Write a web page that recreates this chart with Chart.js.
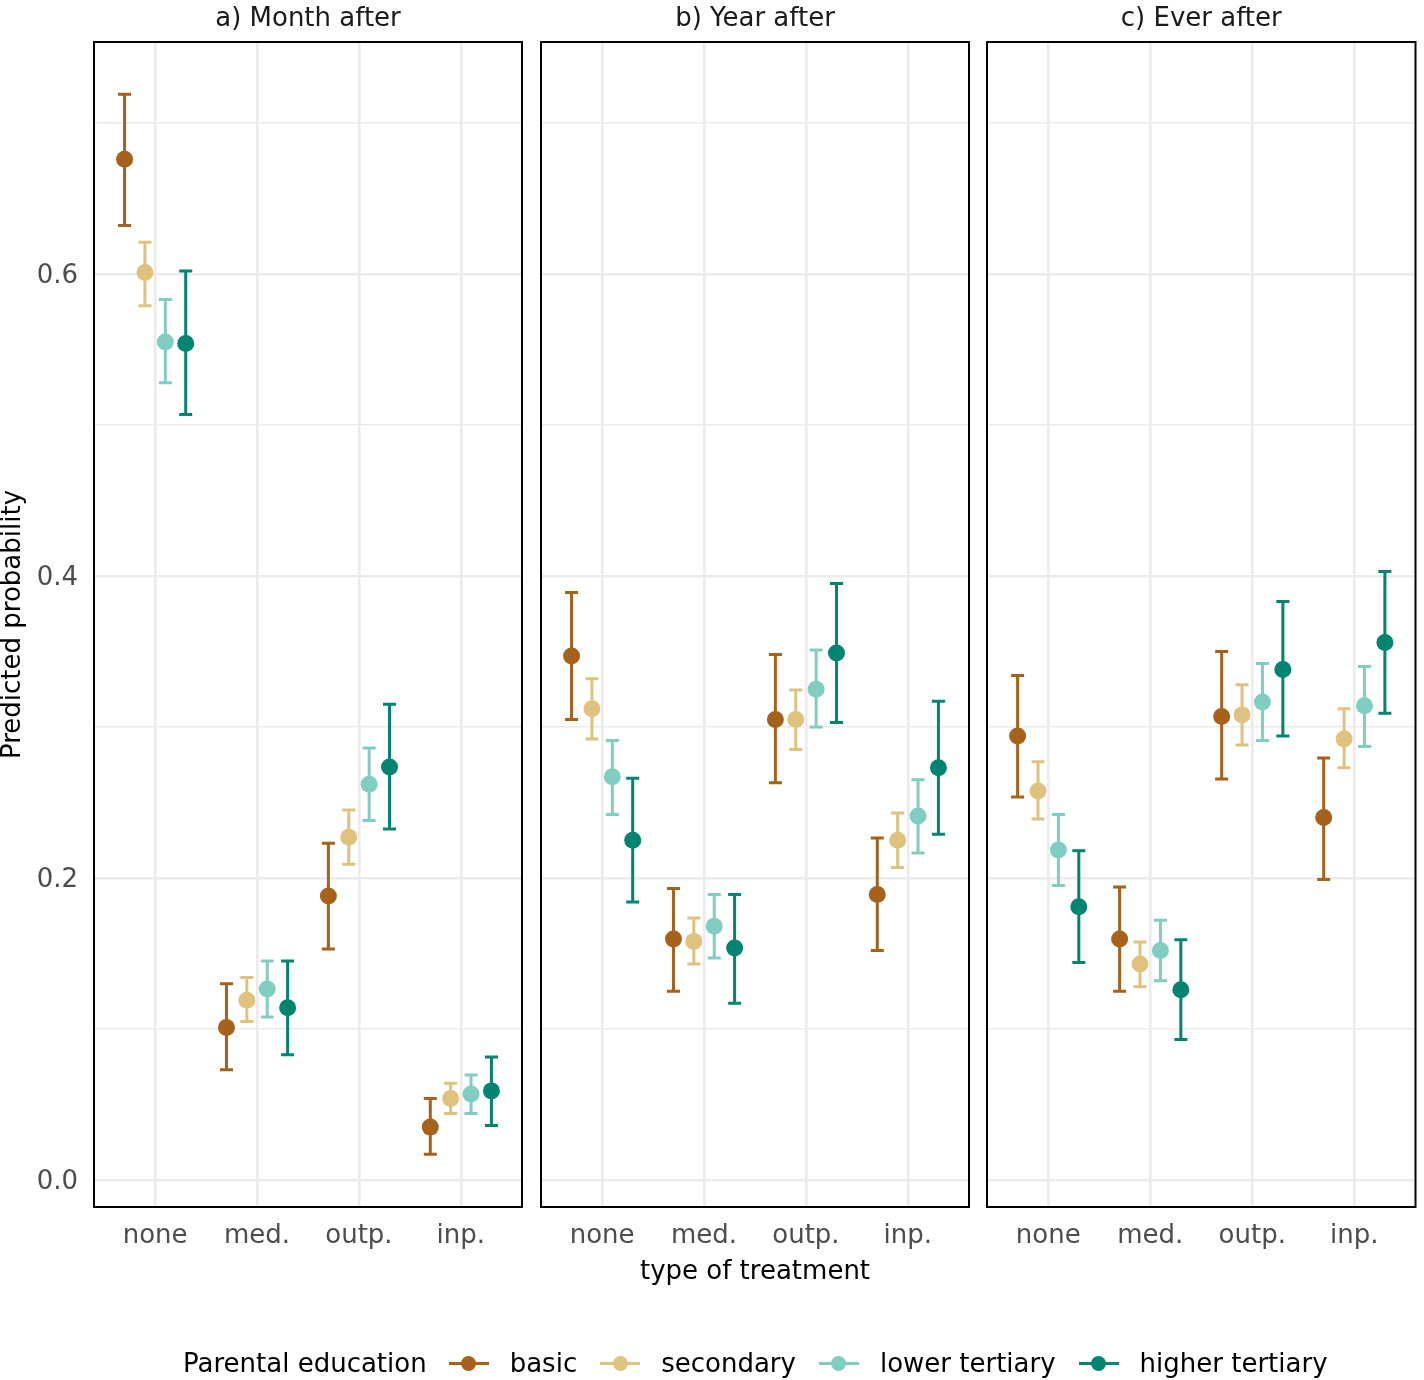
<!DOCTYPE html>
<html>
<head>
<meta charset="utf-8">
<script src="https://cdn.jsdelivr.net/npm/chart.js@4/dist/chart.umd.min.js"></script>
<style>
  html, body { margin: 0; padding: 0; background: #fff; }
  #wrap { position: relative; width: 1424px; height: 1380px; overflow: hidden; font-family: "DejaVu Sans", "Liberation Sans", Arial, sans-serif; }
  #wrap canvas { position: absolute; left: 0; top: 0; }
  #legend { position: absolute; left: 183px; top: 1345px; height: 36px; display: flex; align-items: center; font-size: 26px; color: #000; white-space: nowrap; }
  #legend .ttl { margin-right: 22px; }
  #legend .key { position: relative; width: 40px; height: 20px; margin-right: 21px; }
  #legend .key .ln { position: absolute; left: 0; top: 8.5px; width: 40px; height: 3px; }
  #legend .key .pt { position: absolute; left: 12.5px; top: 2.5px; width: 15px; height: 15px; border-radius: 50%; }
  #legend .lab { margin-right: 23px; }
</style>
</head>
<body>
<div id="wrap">
  <canvas id="c1" width="1424" height="1380"></canvas>
  <canvas id="c2" width="1424" height="1380"></canvas>
  <canvas id="c3" width="1424" height="1380"></canvas>
  <div id="legend"></div>
</div>
<script>
// ---------- data ----------
const categories = ["none", "med.", "outp.", "inp."];
const seriesNames = ["basic", "secondary", "lower tertiary", "higher tertiary"];
const seriesColors = ["#a6611a", "#dfc27d", "#80cdc1", "#018571"];
const panelTitles = ["a) Month after", "b) Year after", "c) Ever after"];
const yTickValues = [0, 0.1, 0.2, 0.3, 0.4, 0.5, 0.6, 0.7];
const legendTitle = "Parental education";
const xTitle = "type of treatment";
const yTitle = "Predicted probability";

// rows: basic, secondary, lower tertiary, higher tertiary; columns: none, med., outp., inp.
const monthEst = [[0.676, 0.101, 0.188, 0.035], [0.601, 0.119, 0.227, 0.054], [0.555, 0.1265, 0.262, 0.057], [0.554, 0.114, 0.2735, 0.059]];
const monthLo  = [[0.632, 0.073, 0.153, 0.017], [0.579, 0.105, 0.209, 0.044], [0.528, 0.108, 0.238, 0.044], [0.507, 0.083, 0.2325, 0.036]];
const monthHi  = [[0.719, 0.130, 0.223, 0.054], [0.621, 0.134, 0.245, 0.064], [0.583, 0.145, 0.286, 0.0695], [0.602, 0.145, 0.315, 0.0815]];

const yearEst = [[0.347, 0.1596, 0.305, 0.189], [0.312, 0.158, 0.305, 0.225], [0.267, 0.168, 0.325, 0.241], [0.225, 0.1536, 0.349, 0.273]];
const yearLo  = [[0.305, 0.125, 0.263, 0.152], [0.292, 0.143, 0.285, 0.207], [0.242, 0.147, 0.300, 0.2165], [0.184, 0.117, 0.303, 0.229]];
const yearHi  = [[0.389, 0.193, 0.348, 0.2265], [0.332, 0.1735, 0.3245, 0.243], [0.291, 0.189, 0.351, 0.265], [0.266, 0.189, 0.395, 0.317]];

const everEst = [[0.294, 0.1596, 0.307, 0.240], [0.2576, 0.143, 0.308, 0.292], [0.2185, 0.152, 0.3166, 0.314], [0.181, 0.126, 0.338, 0.356]];
const everLo  = [[0.2536, 0.125, 0.2656, 0.199], [0.239, 0.128, 0.288, 0.273], [0.195, 0.132, 0.291, 0.287], [0.144, 0.093, 0.294, 0.309]];
const everHi  = [[0.334, 0.194, 0.350, 0.2795], [0.277, 0.1576, 0.328, 0.312], [0.242, 0.172, 0.342, 0.340], [0.218, 0.159, 0.383, 0.403]];

// ---------- styling / layout ----------
const FONT = '"DejaVu Sans", "Liberation Sans", Arial, sans-serif';
const dodge = [-0.3, -0.1, 0.1, 0.3];
const panelPads = [
  { left: 0, right: 902 },
  { left: 541, right: 455 },
  { left: 987, right: 8 }
];

const errorBarPlugin = {
  id: 'errorBars',
  beforeDatasetsDraw(chart) {
    const ctx = chart.ctx;
    const ys = chart.scales.y;
    chart.data.datasets.forEach((ds, di) => {
      const meta = chart.getDatasetMeta(di);
      ctx.save();
      ctx.strokeStyle = ds.backgroundColor;
      ctx.lineWidth = 3;
      ctx.lineCap = 'butt';
      meta.data.forEach((pt, i) => {
        const x = pt.x;
        const yl = ys.getPixelForValue(ds.errLo[i]);
        const yh = ys.getPixelForValue(ds.errHi[i]);
        ctx.beginPath();
        ctx.moveTo(x, yl); ctx.lineTo(x, yh);
        ctx.moveTo(x - 6.5, yl); ctx.lineTo(x + 6.5, yl);
        ctx.moveTo(x - 6.5, yh); ctx.lineTo(x + 6.5, yh);
        ctx.stroke();
      });
      ctx.restore();
    });
  }
};

const borderPlugin = {
  id: 'panelBorder',
  afterDatasetsDraw(chart) {
    const a = chart.chartArea;
    const ctx = chart.ctx;
    ctx.save();
    ctx.strokeStyle = '#000';
    ctx.lineWidth = 2;
    ctx.strokeRect(a.left, a.top, a.right - a.left, a.bottom - a.top);
    ctx.restore();
  }
};

function makePanel(canvasId, idx, est, lo, hi) {
  const datasets = seriesNames.map((name, s) => ({
    label: name,
    data: categories.map((c, k) => ({ x: k + 1 + dodge[s], y: est[s][k] })),
    errLo: lo[s],
    errHi: hi[s],
    backgroundColor: seriesColors[s],
    borderColor: seriesColors[s],
    pointRadius: 8.5,
    pointHoverRadius: 8.5,
    borderWidth: 0,
    showLine: false
  }));
  const first = idx === 0;
  const middle = idx === 1;
  return new Chart(document.getElementById(canvasId), {
    type: 'scatter',
    data: { datasets },
    plugins: [errorBarPlugin, borderPlugin],
    options: {
      responsive: false,
      animation: false,
      events: [],
      layout: { padding: { left: panelPads[idx].left, right: panelPads[idx].right, top: 0, bottom: 0 } },
      plugins: {
        legend: { display: false },
        tooltip: { enabled: false },
        title: {
          display: true,
          text: panelTitles[idx],
          fullSize: false,
          color: '#1a1a1a',
          font: { family: FONT, size: 26, weight: 'normal', lineHeight: 1 },
          padding: { top: 6, bottom: 10 }
        }
      },
      scales: {
        x: {
          type: 'linear',
          min: 0.4,
          max: 4.6,
          afterBuildTicks(scale) { scale.ticks = categories.map((c, k) => ({ value: k + 1 })); },
          afterFit(scale) { scale.height = 173; },
          border: { display: false },
          grid: { color: '#ebebeb', lineWidth: 2.6, drawTicks: false },
          ticks: {
            autoSkip: false, maxRotation: 0, minRotation: 0, padding: 14,
            color: '#4d4d4d',
            font: { family: FONT, size: 26 },
            callback: (v) => categories[Math.round(v) - 1]
          },
          title: {
            display: middle,
            text: xTitle,
            color: '#000',
            font: { family: FONT, size: 26, lineHeight: 1 },
            padding: { top: 0, bottom: 95 }
          }
        },
        y: {
          type: 'linear',
          min: -0.0179,
          max: 0.7536,
          afterBuildTicks(scale) { scale.ticks = yTickValues.map(v => ({ value: v })); },
          afterFit(scale) { scale.width = first ? 94 : 0; },
          border: { display: false },
          grid: {
            color: '#ebebeb',
            drawTicks: false,
            lineWidth: (c) => (c.tick && Math.round(c.tick.value * 10) % 2 === 0) ? 2.6 : 1.4
          },
          ticks: {
            display: first,
            padding: 16,
            labelOffset: 2,
            color: '#4d4d4d',
            font: { family: FONT, size: 26 },
            callback: (v) => (Math.round(v * 10) % 2 === 0) ? v.toFixed(1) : ''
          },
          title: {
            display: first,
            text: yTitle,
            color: '#000',
            font: { family: FONT, size: 26, lineHeight: 1 },
            padding: { top: 0, bottom: 0 }
          }
        }
      }
    }
  });
}

makePanel('c1', 0, monthEst, monthLo, monthHi);
makePanel('c2', 1, yearEst, yearLo, yearHi);
makePanel('c3', 2, everEst, everLo, everHi);

// ---------- legend (HTML, real text) ----------
const legend = document.getElementById('legend');
const t = document.createElement('span');
t.className = 'ttl';
t.textContent = legendTitle;
legend.appendChild(t);
seriesNames.forEach((name, s) => {
  const key = document.createElement('span');
  key.className = 'key';
  const ln = document.createElement('span'); ln.className = 'ln'; ln.style.background = seriesColors[s];
  const pt = document.createElement('span'); pt.className = 'pt'; pt.style.background = seriesColors[s];
  key.appendChild(ln); key.appendChild(pt);
  const lab = document.createElement('span');
  lab.className = 'lab';
  lab.textContent = name;
  legend.appendChild(key);
  legend.appendChild(lab);
});
</script>
</body>
</html>
